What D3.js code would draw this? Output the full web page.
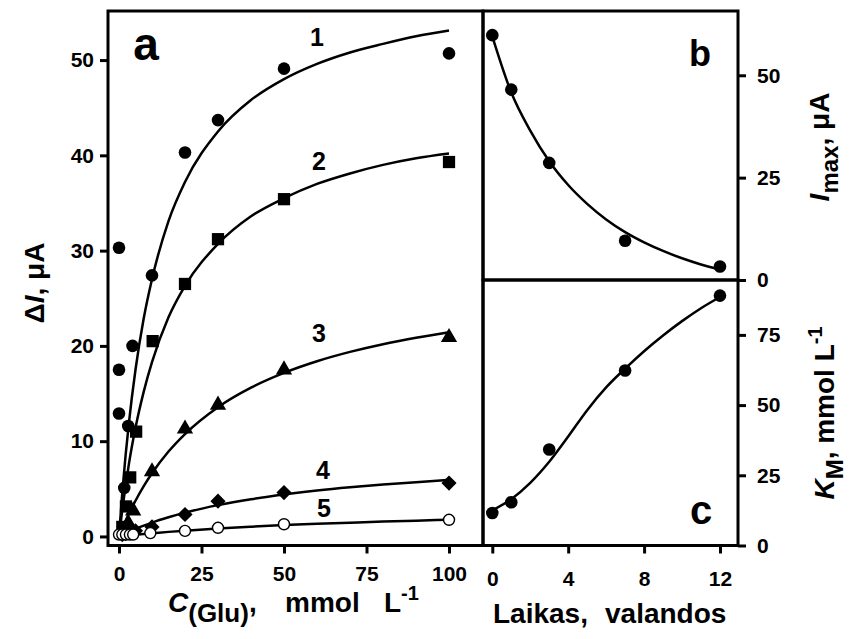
<!DOCTYPE html>
<html>
<head>
<meta charset="utf-8">
<script src="https://cdn.jsdelivr.net/npm/d3@7"></script>
<style>
  body { margin: 0; background: #fff; }
  text { font-family: "Liberation Sans", Arial, sans-serif; font-weight: bold; fill: #000; }
</style>
</head>
<body>
<div id="chart"></div>
<script>
// panel a: measured points (C in mmol/L, dI in uA)
const s1C = [0, 0, 0, 1.6, 2.8, 4.1, 10, 20, 30, 50, 100];
const s1I = [12.9, 17.5, 30.3, 5.1, 11.6, 20.0, 27.4, 40.3, 43.7, 49.1, 50.7];
const s2C = [1, 2.1, 3.4, 5.2, 10.2, 20, 30, 50, 100];
const s2I = [1.0, 3.15, 6.2, 11.0, 20.5, 26.5, 31.2, 35.4, 39.3];
const s3C = [1, 2.8, 4.3, 10, 20, 30, 50, 100];
const s3I = [0.5, 1.4, 2.7, 6.8, 11.3, 13.8, 17.5, 20.9];
const s4C = [1, 2, 3, 5, 10, 20, 30, 50, 100];
const s4I = [0.2, 0.3, 0.4, 0.6, 1.0, 2.3, 3.7, 4.6, 5.6];
const s5C = [0, 1, 2.1, 3.3, 4.3, 9.5, 20, 30, 50, 100];
const s5I = [0.2, 0.2, 0.2, 0.2, 0.2, 0.35, 0.58, 0.91, 1.28, 1.75];

// panel a: fitted curves
const fitC = [0, 1, 2, 3, 5, 7.5, 10, 15, 20, 30, 40, 50, 60, 70, 80, 90, 100];
const fit1 = [0, 4.6, 8.5, 11.9, 17.5, 22.9, 27.0, 33.1, 37.2, 42.5, 45.8, 48.0, 49.6, 50.8, 51.7, 52.5, 53.1];
const fit2 = [0, 2.8, 5.3, 7.6, 11.4, 15.2, 18.3, 23.0, 26.3, 30.7, 33.6, 35.5, 37.0, 38.1, 39.0, 39.7, 40.2];
const fit3 = [0, 0.84, 1.63, 2.38, 3.75, 5.28, 6.63, 8.91, 10.75, 13.57, 15.62, 17.17, 18.39, 19.37, 20.18, 20.85, 21.43];
const fit4 = [0, 0.17, 0.33, 0.49, 0.79, 1.13, 1.45, 2.01, 2.5, 3.29, 3.91, 4.41, 4.82, 5.16, 5.45, 5.70, 5.92];
const fit5 = [0, 0.04, 0.07, 0.11, 0.18, 0.26, 0.33, 0.48, 0.61, 0.83, 1.02, 1.19, 1.33, 1.45, 1.56, 1.66, 1.75];

// panels b and c: time in hours
const hours = [0, 1, 3, 7, 12];
const imax = [59.8, 46.5, 28.6, 9.6, 3.3];
const km = [11.6, 15.4, 34.2, 62.3, 89.0];
const fitHours = [0, 1, 2, 3, 4, 5, 6, 7, 8, 9, 10, 11, 12];
const imaxFit = [59.5, 45.8, 36.5, 29.0, 23.2, 18.6, 14.8, 11.7, 9.2, 7.1, 5.3, 3.8, 2.6];
const kmFit = [12.5, 16.5, 22.3, 29.8, 38.8, 48.2, 56.3, 63.0, 69.2, 74.8, 79.9, 84.5, 88.5];

const ticksA_x = [0, 25, 50, 75, 100];
const ticksA_y = [0, 10, 20, 30, 40, 50];
const ticksT = [0, 4, 8, 12];
const ticksB = [0, 25, 50];
const ticksC = [0, 25, 50, 75];

const curveLabels = ["1", "2", "3", "4", "5"];

const W = 850, H = 639;
const svg = d3.select("#chart").append("svg")
    .attr("width", W)
    .attr("height", H);

// frames
const aL = 108, aR = 483, topY = 11, bot = 545.5, bR = 738, mid = 280;

const xA = d3.scaleLinear().domain([-3.33, 110.3]).range([aL, aR]);
const yA = d3.scaleLinear().domain([-0.95, 55.15]).range([bot, topY]);
const xT = d3.scaleLinear().domain([-0.49, 12.95]).range([aR, bR]);
const yB = d3.scaleLinear().domain([0, 65.7]).range([mid, topY]);
const yC = d3.scaleLinear().domain([0, 94.55]).range([bot, mid]);

const line = (xs, ys) => d3.line()
    .x(d => xs(d[0]))
    .y(d => ys(d[1]))
    .curve(d3.curveMonotoneX);

const zip = (a, b) => a.map((v, i) => [v, b[i]]);

// axes
function styleAxis(g) {
    g.select(".domain").remove();
    g.selectAll(".tick line").attr("stroke", "#000").attr("stroke-width", 3);
    g.selectAll(".tick text").style("font-size", "21px");
}

svg.append("g")
    .attr("transform", `translate(${aL},0)`)
    .call(d3.axisLeft(yA).tickValues(ticksA_y).tickSize(8).tickPadding(6))
    .call(styleAxis);

svg.append("g")
    .attr("transform", `translate(0,${bot})`)
    .call(d3.axisBottom(xA).tickValues(ticksA_x).tickSize(8).tickPadding(13))
    .call(styleAxis);

svg.append("g")
    .attr("transform", `translate(0,${bot})`)
    .call(d3.axisBottom(xT).tickValues(ticksT).tickSize(8).tickPadding(18))
    .call(styleAxis);

svg.append("g")
    .attr("transform", `translate(${bR},0)`)
    .call(d3.axisRight(yB).tickValues(ticksB).tickSize(8).tickPadding(11))
    .call(styleAxis);

svg.append("g")
    .attr("transform", `translate(${bR},0)`)
    .call(d3.axisRight(yC).tickValues(ticksC).tickSize(8).tickPadding(11))
    .call(styleAxis);

// frames drawn over tick roots
const frames = svg.append("g").attr("fill", "none").attr("stroke", "#000").attr("stroke-width", 3);
frames.append("rect").attr("x", aL).attr("y", topY).attr("width", aR - aL).attr("height", bot - topY);
frames.append("rect").attr("x", aR).attr("y", topY).attr("width", bR - aR).attr("height", mid - topY);
frames.append("rect").attr("x", aR).attr("y", mid).attr("width", bR - aR).attr("height", bot - mid);

// fitted curves
const curves = svg.append("g").attr("fill", "none").attr("stroke", "#000").attr("stroke-width", 2.5);
[fit1, fit2, fit3, fit4, fit5].forEach(f => {
    curves.append("path").attr("d", line(xA, yA)(zip(fitC, f)));
});
curves.append("path").attr("d", line(xT, yB)(zip(fitHours, imaxFit)));
curves.append("path").attr("d", line(xT, yC)(zip(fitHours, kmFit)));

// markers
const marks = svg.append("g");
function drawMarks(xs, ys, cs, vs, type) {
    const pts = zip(cs, vs);
    if (type === "circle" || type === "open") {
        marks.selectAll(null).data(pts).enter().append("circle")
            .attr("cx", d => xs(d[0]))
            .attr("cy", d => ys(d[1]))
            .attr("r", type === "open" ? 5.5 : 6.3)
            .attr("fill", type === "open" ? "#fff" : "#000")
            .attr("stroke", "#000")
            .attr("stroke-width", type === "open" ? 1.4 : 0);
    } else {
        const sym = {
            square: d3.symbol().type(d3.symbolSquare).size(150),
            triangle: d3.symbol().type(d3.symbolTriangle).size(115),
            diamond: d3.symbol().type(d3.symbolSquare).size(115)
        }[type];
        const rot = type === "diamond" ? " rotate(45)" : "";
        marks.selectAll(null).data(pts).enter().append("path")
            .attr("transform", d => `translate(${xs(d[0])},${ys(d[1])})${rot}`)
            .attr("d", sym)
            .attr("fill", "#000");
    }
}
drawMarks(xA, yA, s1C, s1I, "circle");
drawMarks(xA, yA, s2C, s2I, "square");
drawMarks(xA, yA, s3C, s3I, "triangle");
drawMarks(xA, yA, s4C, s4I, "diamond");
drawMarks(xA, yA, s5C, s5I, "open");
drawMarks(xT, yB, hours, imax, "circle");
drawMarks(xT, yC, hours, km, "circle");

// curve numbers
const labelPos = [[317, 37], [319, 161], [319, 333], [323, 470], [324, 508]];
svg.selectAll(".cl").data(curveLabels).enter().append("text")
    .attr("x", (d, i) => labelPos[i][0])
    .attr("y", (d, i) => labelPos[i][1] + 9)
    .attr("text-anchor", "middle")
    .style("font-size", "25px")
    .text(d => d);

// panel letters
svg.append("text").attr("x", 146).attr("y", 60).attr("text-anchor", "middle").style("font-size", "46px").text("a");
svg.append("text").attr("x", 700).attr("y", 66).attr("text-anchor", "middle").style("font-size", "36px").text("b");
svg.append("text").attr("x", 701).attr("y", 524).attr("text-anchor", "middle").style("font-size", "40px").text("c");

// axis titles
const tA = svg.append("text").attr("x", 168).attr("y", 612)
    .style("font-size", "28px");
tA.append("tspan").style("font-style", "italic").text("C");
tA.append("tspan").attr("dy", 10).style("font-size", "26px").text("(Glu)");
tA.append("tspan").attr("dy", -10).text(",");
tA.append("tspan").attr("x", 285).text("mmol");
tA.append("tspan").attr("x", 384).text("L");
tA.append("tspan").attr("dy", -12).style("font-size", "20px").text("-1");

const tX = svg.append("text").attr("x", 493).attr("y", 623)
    .style("font-size", "28px");
tX.append("tspan").text("Laikas,");
tX.append("tspan").attr("x", 605).text("valandos");

const tY = svg.append("text").attr("transform", "translate(44,283) rotate(-90)").attr("text-anchor", "middle")
    .style("font-size", "28px");
tY.append("tspan").text("Δ");
tY.append("tspan").style("font-style", "italic").text("I");
tY.append("tspan").text(", μA");

const tB = svg.append("text").attr("transform", "translate(829,147) rotate(-90)").attr("text-anchor", "middle")
    .style("font-size", "28px");
tB.append("tspan").style("font-style", "italic").text("I");
tB.append("tspan").attr("dy", 9).style("font-size", "24px").text("max");
tB.append("tspan").attr("dy", -9).text(", μA");

const tC = svg.append("text").attr("transform", "translate(834,413) rotate(-90)").attr("text-anchor", "middle")
    .style("font-size", "28px");
tC.append("tspan").style("font-style", "italic").text("K");
tC.append("tspan").attr("dy", 9).style("font-size", "24px").text("M");
tC.append("tspan").attr("dy", -9).text(", mmol L");
tC.append("tspan").attr("dy", -12).style("font-size", "20px").text("-1");
</script>
</body>
</html>
